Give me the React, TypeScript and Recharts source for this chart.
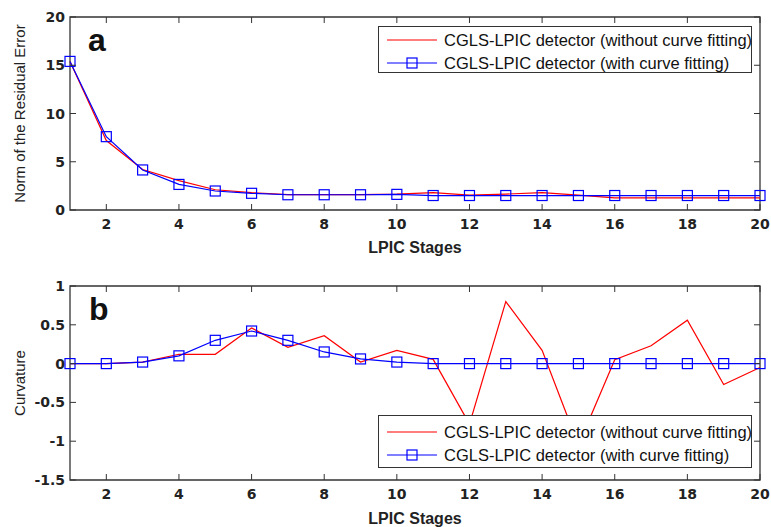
import {
    LineChart,
    Line,
    XAxis,
    YAxis,
    Legend,
    ReferenceArea,
} from "recharts";

const stages = [1, 2, 3, 4, 5, 6, 7, 8, 9, 10, 11, 12, 13, 14, 15, 16, 17, 18, 19, 20];
const residualWithout = [15.4, 7.2, 4.2, 3.05, 2.1, 1.8, 1.6, 1.6, 1.6, 1.65, 1.8, 1.55, 1.65, 1.8, 1.55, 1.25, 1.25, 1.25, 1.25, 1.25];
const residualWith = [15.4, 7.6, 4.15, 2.65, 1.97, 1.73, 1.58, 1.58, 1.58, 1.62, 1.5, 1.5, 1.5, 1.5, 1.5, 1.5, 1.5, 1.5, 1.5, 1.5];
const curvatureWithout = [0, 0, 0.02, 0.12, 0.12, 0.46, 0.21, 0.36, 0.02, 0.17, 0.055, -0.78, 0.8, 0.17, -1.05, 0.05, 0.23, 0.56, -0.27, -0.05];
const curvatureWith = [0, 0, 0.02, 0.1, 0.3, 0.42, 0.3, 0.15, 0.06, 0.02, 0, 0, 0, 0, 0, 0, 0, 0, 0, 0];

const xTicks = [2, 4, 6, 8, 10, 12, 14, 16, 18, 20];
const residualTicks = [0, 5, 10, 15, 20];
const curvatureTicks = [-1.5, -1, -0.5, 0, 0.5, 1];

const nameWithout = "CGLS-LPIC detector (without curve fitting)";
const nameWith = "CGLS-LPIC detector (with curve fitting)";

const RED = "#ff0000";
const BLUE = "#0000ff";
const AXIS = "#333";
const FONT = "'Liberation Sans', Arial, sans-serif";
const TICK_FONT = "'DejaVu Sans', sans-serif";

const residualData = stages.map((s, i) => ({ stage: s, without: residualWithout[i], with: residualWith[i] }));
const curvatureData = stages.map((s, i) => ({ stage: s, without: curvatureWithout[i], with: curvatureWith[i] }));

// matlab style ticks: pointing inward, on both sides of the box
const XTick = (props: any) => {
    const { x, y, payload, plotTop } = props;
    return (
        <g>
            <line x1={x} y1={y} x2={x} y2={y - 6} stroke={AXIS} />
            <line x1={x} y1={plotTop} x2={x} y2={plotTop + 6} stroke={AXIS} />
            <text x={x} y={y + 19} textAnchor="middle" fontSize={14} fontWeight="bold" fill="#222" fontFamily={TICK_FONT}>
                {payload.value}
            </text>
        </g>
    );
};

const YTick = (props: any) => {
    const { x, y, payload, plotRight } = props;
    return (
        <g>
            <line x1={x} y1={y} x2={x + 6} y2={y} stroke={AXIS} />
            <line x1={plotRight - 6} y1={y} x2={plotRight} y2={y} stroke={AXIS} />
            <text x={x - 5} y={y + 5} textAnchor="end" fontSize={14} fontWeight="bold" fill="#222" fontFamily={TICK_FONT}>
                {payload.value}
            </text>
        </g>
    );
};

const SquareDot = (props: any) => {
    const { cx, cy, index } = props;
    return <rect key={index} x={cx - 5} y={cy - 5} width={10} height={10} fill="none" stroke={BLUE} strokeWidth={1.2} />;
};

const LegendBox = ({ rowTop, rowGap }: { rowTop: number; rowGap: number }) => (
    <div
        style={{
            border: "1px solid #333",
            background: "#fff",
            width: 372,
            height: rowTop * 2 + rowGap - 4,
            position: "relative",
            fontFamily: FONT,
            fontSize: 16.5,
            color: "#111",
        }}
    >
        {[
            { name: nameWithout, color: RED, marker: false },
            { name: nameWith, color: BLUE, marker: true },
        ].map((item, i) => (
            <div key={i} style={{ position: "absolute", left: 0, top: rowTop + i * rowGap - 10, height: 20, display: "flex", alignItems: "center" }}>
                <svg width={62} height={20}>
                    <line x1={8} y1={10} x2={58} y2={10} stroke={item.color} strokeWidth={1.2} />
                    {item.marker && <rect x={28} y={5} width={10} height={10} fill="none" stroke={item.color} strokeWidth={1.2} />}
                </svg>
                <span style={{ marginLeft: 3, whiteSpace: "nowrap" }}>{item.name}</span>
            </div>
        ))}
    </div>
);

export default function App() {
    return (
        <div style={{ position: "absolute", left: 0, top: 0, width: 771, height: 527, background: "#fff", fontFamily: FONT }}>
            <div style={{ position: "absolute", left: 0, top: 0 }}>
                <LineChart width={771} height={265} data={residualData} margin={{ top: 17, right: 11, left: 0, bottom: 0 }}>
                    <XAxis
                        dataKey="stage"
                        type="number"
                        domain={[1, 20]}
                        ticks={xTicks}
                        interval={0}
                        height={55}
                        tickSize={0}
                        tickMargin={0}
                        axisLine={false}
                        tickLine={false}
                        tick={<XTick plotTop={17} />}
                        label={{ value: "LPIC Stages", position: "insideBottom", offset: 12, fontSize: 16, fontWeight: "bold", fill: "#222" }}
                    />
                    <YAxis
                        type="number"
                        domain={[0, 20]}
                        ticks={residualTicks}
                        interval={0}
                        width={70}
                        tickSize={0}
                        tickMargin={0}
                        axisLine={false}
                        tickLine={false}
                        tick={<YTick plotRight={760} />}
                        label={{ value: "Norm of the Residual Error", angle: -90, position: "insideLeft", offset: 20, fontSize: 15, fill: "#222", style: { textAnchor: "middle" } }}
                    />
                    <ReferenceArea x1={1} x2={20} y1={0} y2={20} fill="none" fillOpacity={0} stroke={AXIS} strokeWidth={1.3} ifOverflow="visible" />
                    <Line dataKey="without" name={nameWithout} stroke={RED} strokeWidth={1.2} dot={false} isAnimationActive={false} />
                    <Line dataKey="with" name={nameWith} stroke={BLUE} strokeWidth={1.2} dot={<SquareDot />} isAnimationActive={false} />
                    <Legend
                        verticalAlign="middle"
                        align="center"
                        wrapperStyle={{ top: 26, left: 378, width: 374 }}
                        content={() => <LegendBox rowTop={13} rowGap={23} />}
                    />
                </LineChart>
                <div style={{ position: "absolute", left: 88, top: 22, fontSize: 32, fontWeight: "bold", color: "#111" }}>a</div>
            </div>
            <div style={{ position: "absolute", left: 0, top: 265 }}>
                <LineChart width={771} height={262} data={curvatureData} margin={{ top: 21, right: 11, left: 0, bottom: 0 }}>
                    <XAxis
                        dataKey="stage"
                        type="number"
                        domain={[1, 20]}
                        ticks={xTicks}
                        interval={0}
                        height={47}
                        tickSize={0}
                        tickMargin={0}
                        axisLine={false}
                        tickLine={false}
                        tick={<XTick plotTop={21} />}
                        label={{ value: "LPIC Stages", position: "insideBottom", offset: 3, fontSize: 16, fontWeight: "bold", fill: "#222" }}
                    />
                    <YAxis
                        type="number"
                        domain={[-1.5, 1]}
                        ticks={curvatureTicks}
                        interval={0}
                        width={70}
                        tickSize={0}
                        tickMargin={0}
                        axisLine={false}
                        tickLine={false}
                        tick={<YTick plotRight={760} />}
                        label={{ value: "Curvature", angle: -90, position: "insideLeft", offset: 20, fontSize: 15, fill: "#222", style: { textAnchor: "middle" } }}
                    />
                    <ReferenceArea x1={1} x2={20} y1={-1.5} y2={1} fill="none" fillOpacity={0} stroke={AXIS} strokeWidth={1.3} ifOverflow="visible" />
                    <Line dataKey="without" name={nameWithout} stroke={RED} strokeWidth={1.2} dot={false} isAnimationActive={false} />
                    <Line dataKey="with" name={nameWith} stroke={BLUE} strokeWidth={1.2} dot={<SquareDot />} isAnimationActive={false} />
                    <Legend
                        verticalAlign="middle"
                        align="center"
                        wrapperStyle={{ top: 150, left: 378, width: 374 }}
                        content={() => <LegendBox rowTop={16} rowGap={23} />}
                    />
                </LineChart>
                <div style={{ position: "absolute", left: 89, top: 26, fontSize: 32, fontWeight: "bold", color: "#111" }}>b</div>
            </div>
        </div>
    );
}
